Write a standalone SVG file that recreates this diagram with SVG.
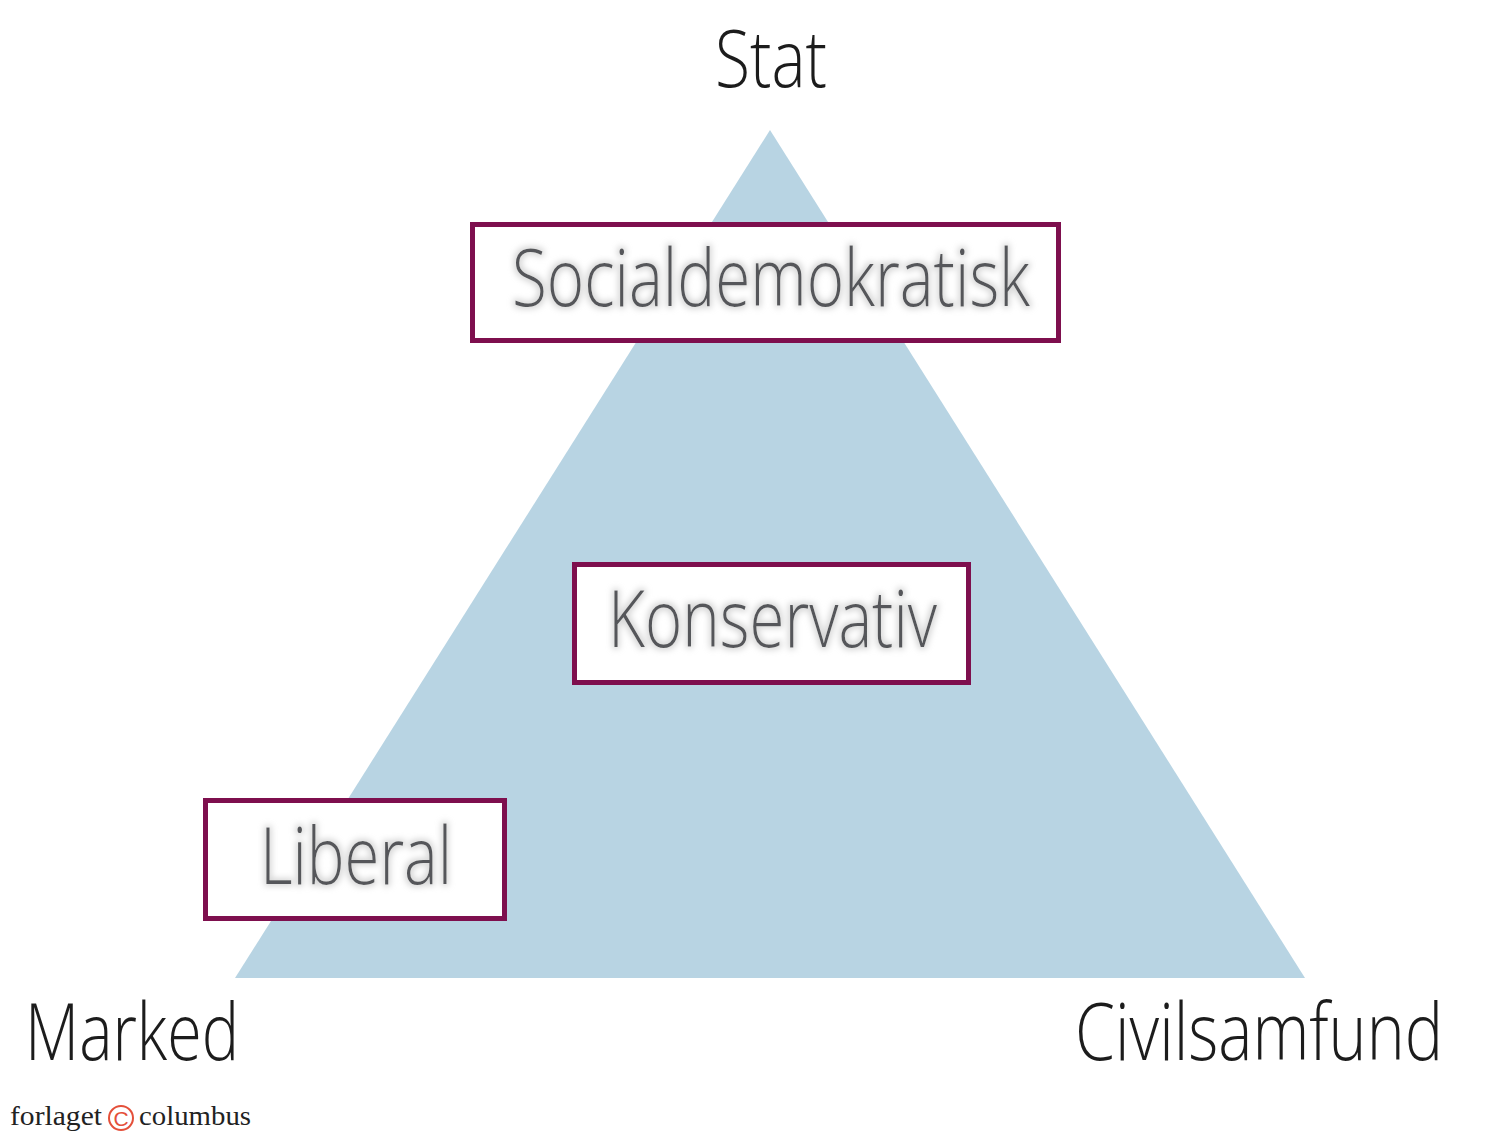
<svg xmlns="http://www.w3.org/2000/svg" width="1500" height="1135" viewBox="0 0 1500 1135">
<style>
.lbl{font-family:"Open Sans","Noto Sans","DejaVu Sans",sans-serif;font-weight:300;fill:#1c1c1c;font-size:80px}
.box{fill:#ffffff;stroke:#7e0f4e;stroke-width:5}
.bt{font-family:"Open Sans","Noto Sans","DejaVu Sans",sans-serif;font-weight:300;fill:#55575a;font-size:80px;filter:url(#glow)}
.foot{font-family:"Liberation Serif","DejaVu Serif",serif;font-size:27px;fill:#222222}
</style>
<defs>
<filter id="glow" x="-10%" y="-30%" width="120%" height="160%">
<feMorphology in="SourceAlpha" operator="dilate" radius="2" result="d"/>
<feGaussianBlur in="d" stdDeviation="3" result="b"/>
<feFlood flood-color="#d6d6d6"/>
<feComposite in2="b" operator="in" result="s"/>
<feMerge><feMergeNode in="s"/><feMergeNode in="SourceGraphic"/></feMerge>
</filter>
</defs>
<rect width="1500" height="1135" fill="#ffffff"/>
<g id="triangle">
<polygon points="770,130 1305,978 235,978" fill="#b8d4e3"/>
</g>
<g id="connectors"></g>
<g id="stat"><text class="lbl" x="715" y="87" textLength="112" lengthAdjust="spacingAndGlyphs">Stat</text></g>
<g id="marked"><text class="lbl" x="25" y="1060" textLength="214" lengthAdjust="spacingAndGlyphs">Marked</text></g>
<g id="civilsamfund"><text class="lbl" x="1075" y="1060" textLength="368" lengthAdjust="spacingAndGlyphs">Civilsamfund</text></g>
<g id="socialdemokratisk">
<rect class="box" x="472.5" y="224.5" width="586" height="116"/>
<text class="bt" x="512" y="306" textLength="518" lengthAdjust="spacingAndGlyphs">Socialdemokratisk</text>
</g>
<g id="konservativ">
<rect class="box" x="574.5" y="564.5" width="394" height="118"/>
<text class="bt" x="608" y="647" textLength="329" lengthAdjust="spacingAndGlyphs">Konservativ</text>
</g>
<g id="liberal">
<rect class="box" x="205.5" y="800.5" width="299" height="118"/>
<text class="bt" x="260" y="884" textLength="192" lengthAdjust="spacingAndGlyphs">Liberal</text>
</g>
<g id="footer">
<text class="foot" x="10" y="1125" textLength="92" lengthAdjust="spacingAndGlyphs">forlaget</text>
<circle cx="121" cy="1118" r="12" fill="none" stroke="#e4503a" stroke-width="2"/>
<text x="121" y="1126" text-anchor="middle" font-family="Liberation Sans,Arial,sans-serif" font-size="21" fill="#e4503a">C</text>
<text class="foot" x="139" y="1125" textLength="112" lengthAdjust="spacingAndGlyphs">columbus</text>
</g>
</svg>
